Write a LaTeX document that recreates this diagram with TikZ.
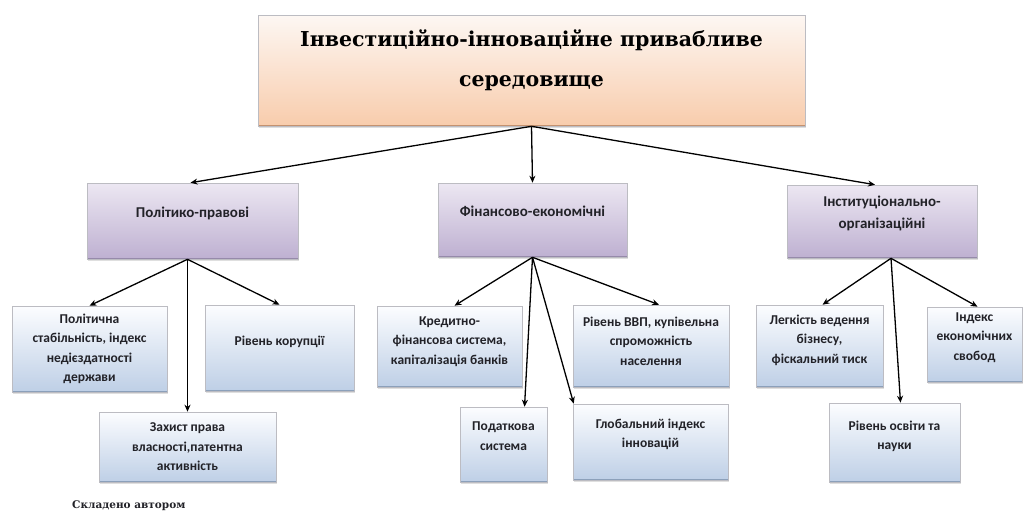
\documentclass[tikz,border=0pt]{standalone}
\usepackage{fontspec}
\setmainfont{Liberation Serif}
\newfontfamily\titlefont{DejaVu Serif}
\newfontfamily\boxfont{Carlito}
\usetikzlibrary{arrows.meta,shadows,calc}
\definecolor{edgegray}{RGB}{188,188,194}
\definecolor{peachtop}{RGB}{253,247,243}
\definecolor{peachmid}{RGB}{251,226,208}
\definecolor{peachbot}{RGB}{248,204,172}
\definecolor{peachedge}{RGB}{196,146,112}
\definecolor{lavtop}{RGB}{236,231,242}
\definecolor{lavmid}{RGB}{220,211,231}
\definecolor{lavbot}{RGB}{190,176,209}
\definecolor{lavedge}{RGB}{150,138,170}
\definecolor{bluetop}{RGB}{252,253,255}
\definecolor{bluemid}{RGB}{226,234,245}
\definecolor{bluebot}{RGB}{190,207,230}
\definecolor{blueedge}{RGB}{140,160,186}
\definecolor{txtgray}{RGB}{34,34,40}
\begin{document}
\begin{tikzpicture}[x=1pt,y=-1pt,
  boxbase/.style={draw=edgegray, line width=0.6pt, inner sep=2pt, align=center,
    drop shadow={shadow xshift=1.2pt,shadow yshift=-1.6pt,opacity=0.25}},
  bottomline/.style={path picture={\draw[#1,line width=2pt]
    (path picture bounding box.south west) -- (path picture bounding box.south east);}},
  titlebox/.style={boxbase, top color=peachtop, middle color=peachmid, bottom color=peachbot,
    bottomline=peachedge, text depth=24pt,
    font=\titlefont\fontsize{20.5}{40}\selectfont\bfseries, text=black},
  catbox/.style={boxbase, top color=lavtop, middle color=lavmid, bottom color=lavbot,
    bottomline=lavedge, text depth=18pt,
    font=\boxfont\fontsize{15}{22}\selectfont\bfseries, text=txtgray},
  itembox/.style={boxbase, top color=bluetop, middle color=bluemid, bottom color=bluebot,
    bottomline=blueedge,
    font=\boxfont\fontsize{13.5}{19.5}\selectfont\bfseries, text=txtgray},
  up/.style={text depth=#1},
  conn/.style={-{Stealth[length=7pt,width=6pt]}, line width=1.3pt, black},
  note/.style={font=\titlefont\fontsize{10.5}{12}\selectfont\bfseries, text=txtgray, inner sep=0pt}
]
\useasboundingbox (0,0) rectangle (1024,515);
\fill[white] (0,0) rectangle (1024,515);

% top
\node[titlebox, minimum width=547pt, minimum height=111pt] (top) at (531.5,70.5)
  {Інвестиційно-інноваційне привабливе\\середовище};

% categories
\node[catbox, minimum width=211pt, minimum height=76pt] (pol) at (192.5,221) {Політико-правові};
\node[catbox, minimum width=189pt, minimum height=74pt] (fin) at (532.5,220) {Фінансово-економічні};
\node[catbox, minimum width=190pt, minimum height=73pt] (inst) at (882,221.5) {Інституціонально-\\організаційні};

% items
\node[itembox, minimum width=155pt, minimum height=86pt] (polst) at (89.5,349)
  {Політична\\стабільність, індекс\\недієздатності\\держави};
\node[itembox, up=15pt, minimum width=149pt, minimum height=86pt] (kor) at (279.5,348) {Рівень корупції};
\node[itembox, minimum width=177pt, minimum height=70pt] (zakh) at (187.5,447)
  {Захист права\\власності,патентна\\активність};
\node[itembox, up=12pt, minimum width=145pt, minimum height=81pt] (kred) at (449.5,346.5)
  {Кредитно-\\фінансова система,\\капіталізація банків};
\node[itembox, up=10pt, minimum width=156pt, minimum height=82pt] (vvp) at (651,346)
  {Рівень ВВП, купівельна\\спроможність\\населення};
\node[itembox, up=17pt, minimum width=87pt, minimum height=75pt] (pod) at (503.5,444.5)
  {Податкова\\система};
\node[itembox, up=17pt, minimum width=155pt, minimum height=76pt] (glob) at (650.5,442)
  {Глобальний індекс\\інновацій};
\node[itembox, up=14pt, minimum width=127pt, minimum height=82pt] (leg) at (819.5,346)
  {Легкість ведення\\бізнесу,\\фіскальний тиск};
\node[itembox, up=14pt, minimum width=131pt, minimum height=79pt] (osv) at (894.5,442.5)
  {Рівень освіти та\\науки};
\node[itembox, up=16pt, minimum width=95pt, minimum height=75pt] (ind) at (974.5,344.5)
  {Індекс\\економічних\\свобод};

\node[note, anchor=west] (src) at (72,506) {Складено автором};

% connectors
\draw[conn] (top.south) -- ($(pol.north)+(-2,0)$);
\draw[conn] (top.south) -- (fin.north);
\draw[conn] (top.south) -- ($(inst.north)+(-7,0)$);

\draw[conn] ($(pol.south)+(-5,0)$) -- (polst.north);
\draw[conn] ($(pol.south)+(-5,0)$) -- (zakh.north);
\draw[conn] ($(pol.south)+(-5,0)$) -- (kor.north);

\draw[conn] (fin.south) -- ($(kred.north)+(5,0)$);
\draw[conn] (fin.south) -- ($(pod.north west)!0.74!(pod.north east)$);
\draw[conn] (fin.south) -- ($(glob.north west)+(1,0)$);
\draw[conn] (fin.south) -- ($(vvp.north)+(8,0)$);

\draw[conn] ($(inst.south)+(9,0)$) -- ($(leg.north)+(3,0)$);
\draw[conn] ($(inst.south)+(9,0)$) -- ($(osv.north)+(6,0)$);
\draw[conn] ($(inst.south)+(9,0)$) -- ($(ind.north)+(3,0)$);
\end{tikzpicture}
\end{document}
